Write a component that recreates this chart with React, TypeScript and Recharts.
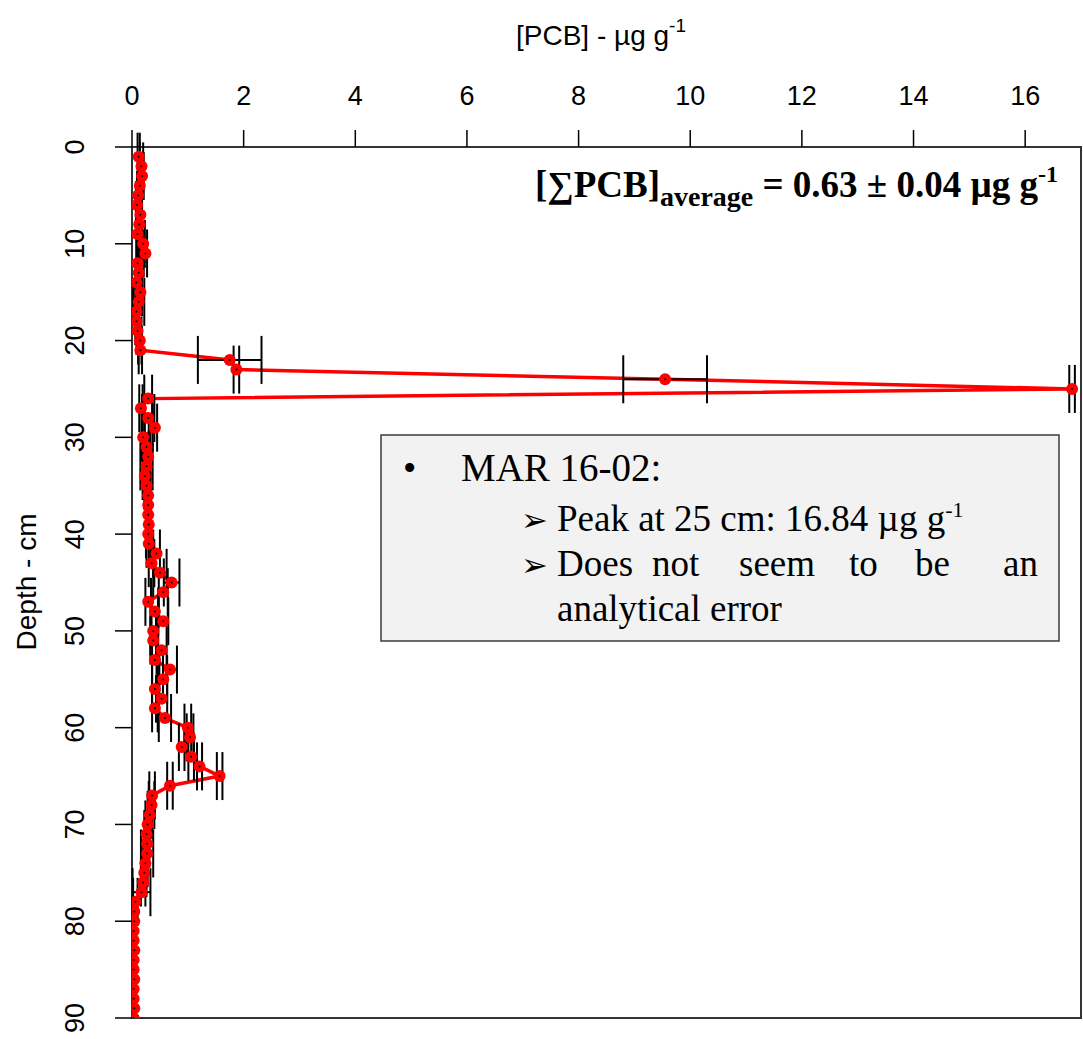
import React from 'react';
import { ComposedChart, Line, XAxis, YAxis, ErrorBar, ReferenceArea } from 'recharts';

const depths = [
  1, 2, 3, 4, 5, 6, 7, 8, 9, 10,
  11, 12, 13, 14, 15, 16, 17, 18, 19, 20,
  21, 22, 23, 24, 25, 26, 27, 28, 29, 30,
  31, 32, 33, 34, 35, 36, 37, 38, 39, 40,
  41, 42, 43, 44, 45, 46, 47, 48, 49, 50,
  51, 52, 53, 54, 55, 56, 57, 58, 59, 60,
  61, 62, 63, 64, 65, 66, 67, 68, 69, 70,
  71, 72, 73, 74, 75, 76, 77, 78, 79, 80,
  81, 82, 83, 84, 85, 86, 87, 88, 89, 90,
];

const pcb = [
  0.12, 0.17, 0.18, 0.14, 0.11, 0.09, 0.15, 0.13, 0.1, 0.2,
  0.24, 0.1, 0.12, 0.08, 0.15, 0.12, 0.08, 0.08, 0.1, 0.14,
  0.15, 1.75, 1.87, 9.55, 16.84, 0.29, 0.16, 0.29, 0.41, 0.2,
  0.26, 0.29, 0.26, 0.23, 0.26, 0.29, 0.29, 0.29, 0.3, 0.29,
  0.3, 0.44, 0.35, 0.5, 0.71, 0.56, 0.29, 0.41, 0.56, 0.38,
  0.38, 0.53, 0.41, 0.68, 0.56, 0.41, 0.53, 0.41, 0.59, 1.0,
  1.04, 0.89, 1.06, 1.21, 1.57, 0.68, 0.36, 0.35, 0.32, 0.28,
  0.26, 0.27, 0.27, 0.24, 0.22, 0.2, 0.17, 0.06, 0.04, 0.04,
  0.03, 0.03, 0.04, 0.03, 0.03, 0.04, 0.03, 0.03, 0.04, 0.03,
];

const pcbErr = [
  0.02, 0.03, 0.03, 0.02, 0.02, 0.02, 0.03, 0.02, 0.02, 0.03,
  0.03, 0.02, 0.02, 0.02, 0.03, 0.1, 0.02, 0.02, 0.02, 0.03,
  0.03, 0.57, 0.05, 0.75, 0.05, 0.07, 0.03, 0.11, 0.04, 0.03,
  0.04, 0.04, 0.11, 0.04, 0.04, 0.04, 0.04, 0.04, 0.04, 0.04,
  0.04, 0.06, 0.05, 0.12, 0.14, 0.08, 0.05, 0.06, 0.09, 0.05,
  0.05, 0.09, 0.05, 0.125, 0.07, 0.05, 0.1, 0.05, 0.11, 0.06,
  0.06, 0.05, 0.05, 0.045, 0.05, 0.05, 0.05, 0.05, 0.04, 0.04,
  0.04, 0.04, 0.11, 0.04, 0.04, 0.04, 0.16, 0.04, 0.0, 0.0,
  0.0, 0.0, 0.0, 0.0, 0.0, 0.0, 0.0, 0.0, 0.0, 0.0,
];

const xTicks = [0, 2, 4, 6, 8, 10, 12, 14, 16];
const yTicks = [0, 10, 20, 30, 40, 50, 60, 70, 80, 90];

const data = depths.map((d, i) => ({ depth: d, pcb: pcb[i], err: pcbErr[i] }));

const SANS = "'Liberation Sans', Arial, sans-serif";
const SERIF = "'Liberation Serif', 'Times New Roman', serif";

const XTick = (p: any) => (
  <text x={p.x} y={105} textAnchor="middle" fontFamily={SANS} fontSize={27} fill="#000">
    {p.payload.value}
  </text>
);

const YTick = (p: any) => (
  <text
    x={84}
    y={p.y}
    transform={`rotate(-90 84 ${p.y})`}
    textAnchor="middle"
    fontFamily={SANS}
    fontSize={27}
    fill="#000"
  >
    {p.payload.value}
  </text>
);

const Dot = (p: any) => {
  if (p.cx == null || p.cy == null) return null;
  return (
    <g key={p.key}>
      <circle cx={p.cx} cy={p.cy} r={6} fill="#ff0000" />
      <circle cx={p.cx} cy={p.cy} r={1} fill="#000" />
    </g>
  );
};

export default function App() {
  return (
    <div style={{ position: 'absolute', left: 0, top: 0, width: 1083, height: 1039, background: '#fff' }}>
      <ComposedChart
        width={1083}
        height={1039}
        data={data}
        layout="vertical"
        margin={{ top: 0, right: 2, bottom: 21, left: 0 }}
      >
        <XAxis
          type="number"
          orientation="top"
          domain={[0, 17]}
          ticks={xTicks}
          allowDataOverflow
          height={147}
          tickSize={17}
          axisLine={false}
          tickLine={{ stroke: '#000', strokeWidth: 1.5 }}
          tick={XTick}
        />
        <YAxis
          type="number"
          dataKey="depth"
          domain={[0, 90]}
          ticks={yTicks}
          allowDataOverflow
          width={132}
          tickSize={17}
          axisLine={false}
          tickLine={{ stroke: '#000', strokeWidth: 1.5 }}
          tick={YTick}
        />
        <ReferenceArea x1={0} x2={17} y1={0} y2={90} fill="none" fillOpacity={0} stroke="#333" strokeWidth={2} ifOverflow="visible" />
        <Line
          dataKey="pcb"
          stroke="#ff0000"
          strokeWidth={3.5}
          dot={Dot}
          activeDot={false}
          isAnimationActive={false}
        />
        <Line dataKey="pcb" stroke="none" dot={false} activeDot={false} isAnimationActive={false}>
          <ErrorBar dataKey="err" direction="x" width={24} stroke="#000" strokeWidth={2} />
        </Line>
      </ComposedChart>
      <svg
        width={1083}
        height={1039}
        style={{ position: 'absolute', left: 0, top: 0, pointerEvents: 'none' }}
      >
        <text x={601} y={45} textAnchor="middle" fontFamily={SANS} fontSize={28} fill="#000">
          [PCB] - µg g<tspan dy={-13} fontSize={19}>-1</tspan>
        </text>
        <text
          x={36}
          y={582}
          transform="rotate(-90 36 582)"
          textAnchor="middle"
          fontFamily={SANS}
          fontSize={28}
          fill="#000"
        >
          Depth - cm
        </text>
        <text x={1058} y={197} textAnchor="end" fontFamily={SERIF} fontWeight="bold" fontSize={37} fill="#000">
          [∑PCB]<tspan fontSize={28} dy={9}>average</tspan>
          <tspan dy={-9}> = 0.63 ± 0.04 µg g</tspan>
          <tspan fontSize={24} dy={-15}>-1</tspan>
        </text>
        <rect x={381} y={435} width={678} height={206} fill="#f2f2f2" stroke="#3a3a3a" strokeWidth={1.5} />
        <text x={403} y={481} fontFamily={SERIF} fontSize={38} fill="#000">•</text>
        <text x={461} y={481} fontFamily={SERIF} fontSize={39} fill="#000">MAR 16-02:</text>
        <text x={521} y={531} fontFamily="'DejaVu Sans', sans-serif" fontSize={32} fill="#000">➢</text>
        <text x={557} y={531} fontFamily={SERIF} fontSize={37} fill="#000">
          Peak at 25 cm: 16.84 µg g<tspan dy={-14} fontSize={22}>-1</tspan>
        </text>
        <text x={521} y={576} fontFamily="'DejaVu Sans', sans-serif" fontSize={32} fill="#000">➢</text>
        <text y={576} fontFamily={SERIF} fontSize={37} fill="#000">
          <tspan x={557}>Does</tspan>
          <tspan x={652}>not</tspan>
          <tspan x={739}>seem</tspan>
          <tspan x={849}>to</tspan>
          <tspan x={915}>be</tspan>
          <tspan x={1003}>an</tspan>
        </text>
        <text x={557} y={621} fontFamily={SERIF} fontSize={37} fill="#000">analytical error</text>
      </svg>
    </div>
  );
}
